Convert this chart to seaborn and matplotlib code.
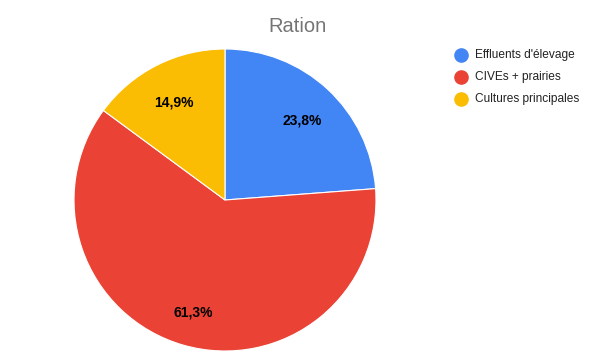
import matplotlib
matplotlib.use("Agg")
import matplotlib.pyplot as plt
import seaborn as sns
from matplotlib.lines import Line2D

categories = ["Effluents d'élevage", "CIVEs + prairies", "Cultures principales"]
values = [23.8, 61.3, 14.9]
colors = ["#4285F4", "#EA4335", "#FBBC04"]
title = "Ration"

sns.set_theme(style="white")
plt.rcParams['font.family'] = ['Liberation Sans', 'DejaVu Sans']

fig = plt.figure(figsize=(5.96, 3.61), dpi=100)
fig.patch.set_facecolor("white")
W, H = 596, 361
cx, cy, r = 225, 200, 151
ax = fig.add_axes([(cx - r) / W, (H - cy - r) / H, 2 * r / W, 2 * r / H])

wedges, texts, autotexts = ax.pie(
    values, colors=colors, startangle=90, counterclock=False,
    autopct=lambda p: f"{p:.1f}%".replace(".", ","), pctdistance=0.75,
    wedgeprops=dict(edgecolor="white", linewidth=0.8),
    textprops=dict(fontsize=10, fontweight="bold", color="black"))
for t in autotexts:
    x, y = t.get_position()
    t.set_position((x, y - 0.026))
ax.set_aspect("equal")
ax.set_xlim(-1, 1)
ax.set_ylim(-1, 1)
ax.axis("off")

fig.text(297 / W, 1 - 27 / H, title, ha="center", va="center", fontsize=14.5, color="#757575")

ys = [55, 77, 99]
for cat, col, y in zip(categories, colors, ys):
    fig.add_artist(Line2D([461 / W], [1 - y / H], marker="o", markersize=9.5,
                          color=col, transform=fig.transFigure, linestyle="none"))
    fig.text(475 / W, 1 - y / H, cat, ha="left", va="center", fontsize=8.6, color="#222222")

fig.savefig("out.png", dpi=100, facecolor="white")
